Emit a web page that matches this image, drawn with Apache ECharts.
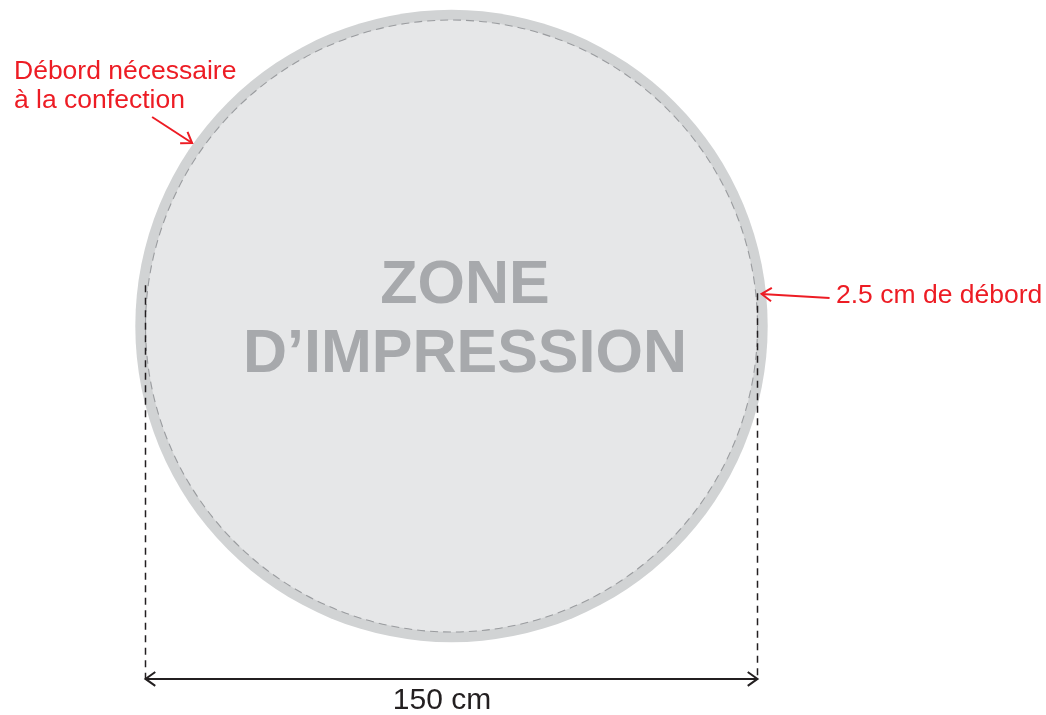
<!DOCTYPE html>
<html>
<head>
<meta charset="utf-8">
<script src="https://cdn.jsdelivr.net/npm/echarts@6/dist/echarts.min.js"></script>
<style>
  html, body { margin: 0; background: #fff; }
  #main { width: 1046px; height: 715px; }
</style>
</head>
<body>
<div id="main"></div>
<script>
// banner sizes, in cm
const diameterCm = 150
const bleedCm = 2.5
const discRadii = [diameterCm / 2 + bleedCm, diameterCm / 2] // bleed ring, print zone
const extensionLines = [[-75, 10, -86.5], [75, 8, -86.5]] // x, y from, y to
const dimensionLines = [[-75, 75, -86.5]] // x from, x to, y
const leaderTargets = [[144.8, 77.8], [5.9, 76.4]] // angle (deg), radius (cm)
const zoneLabels = ['ZONE', 'D’IMPRESSION']
const noteLabels = ['Débord nécessaire', 'à la confection']
const bleedLabel = bleedCm + ' cm de débord'
const dimensionLabel = diameterCm + ' cm'

const W = 1046
const H = 715
const PX_PER_CM = 4.08
const CX = 451.5
const CY = 326
const RED = '#ed1c24'
const DARK = '#231f20'
const FONT = '"Liberation Sans", Arial, sans-serif'

const chart = echarts.init(document.getElementById('main'))

function chevron (tip, from, len, ang) {
  const a = Math.atan2(from[1] - tip[1], from[0] - tip[0])
  return [
    [tip[0] + len * Math.cos(a + ang), tip[1] + len * Math.sin(a + ang)],
    tip,
    [tip[0] + len * Math.cos(a - ang), tip[1] + len * Math.sin(a - ang)]
  ]
}

// tail of each leader, relative to its tip (px)
const leaderTails = [[-40, -26], [68, 4]]

function label (text, x, y, font, fill, align) {
  return {
    type: 'text', x, y, z: 100,
    style: { text, font: font + ' ' + FONT, fill, align, verticalAlign: 'middle' }
  }
}

const option = {
  animation: false,
  grid: { left: 0, top: 0, width: W, height: H },
  xAxis: { type: 'value', min: -CX / PX_PER_CM, max: (W - CX) / PX_PER_CM, show: false },
  yAxis: { type: 'value', min: -(H - CY) / PX_PER_CM, max: CY / PX_PER_CM, show: false },
  series: [
    {
      type: 'custom',
      data: discRadii,
      renderItem: (params, api) => {
        const c = api.coord([0, 0])
        const r = api.size([api.value(0), 0])[0]
        const outer = params.dataIndex === 0
        return {
          type: 'circle',
          shape: { cx: c[0], cy: c[1], r: r },
          style: outer
            ? { fill: '#d1d3d4' }
            : { fill: '#e6e7e8', stroke: '#9a9c9f', lineWidth: 1.1, lineDash: [8, 5] }
        }
      }
    },
    {
      type: 'custom',
      data: extensionLines,
      renderItem: (params, api) => {
        const a = api.coord([api.value(0), api.value(1)])
        const b = api.coord([api.value(0), api.value(2)])
        return {
          type: 'line',
          shape: { x1: a[0], y1: a[1], x2: b[0], y2: b[1] },
          style: { stroke: DARK, lineWidth: 1.5, lineDash: [7, 5.5] }
        }
      }
    },
    {
      type: 'custom',
      data: dimensionLines,
      renderItem: (params, api) => {
        const a = api.coord([api.value(0), api.value(2)])
        const b = api.coord([api.value(1), api.value(2)])
        const style = { stroke: DARK, lineWidth: 2, fill: null }
        return {
          type: 'group',
          children: [
            { type: 'line', shape: { x1: a[0], y1: a[1], x2: b[0], y2: b[1] }, style },
            { type: 'polyline', shape: { points: chevron(a, b, 12, 0.62) }, style },
            { type: 'polyline', shape: { points: chevron(b, a, 12, 0.62) }, style }
          ]
        }
      }
    },
    {
      type: 'custom',
      data: leaderTargets,
      renderItem: (params, api) => {
        const ang = api.value(0) * Math.PI / 180
        const r = api.value(1)
        const tip = api.coord([r * Math.cos(ang), r * Math.sin(ang)])
        const off = leaderTails[params.dataIndex]
        const tail = [tip[0] + off[0], tip[1] + off[1]]
        const style = { stroke: RED, lineWidth: 2, fill: null }
        return {
          type: 'group',
          children: [
            { type: 'line', shape: { x1: tail[0], y1: tail[1], x2: tip[0], y2: tip[1] }, style },
            { type: 'polyline', shape: { points: chevron(tip, tail, 12, 0.6) }, style }
          ]
        }
      }
    }
  ],
  graphic: [
    label(zoneLabels[0], 465, 286, 'bold 61px', '#a7a9ac', 'center'),
    label(zoneLabels[1], 465, 355, 'bold 61px', '#a7a9ac', 'center'),
    label(noteLabels[0], 14, 72, '26.5px', RED, 'left'),
    label(noteLabels[1], 14, 101, '26.5px', RED, 'left'),
    label(bleedLabel, 836, 296, '26.5px', RED, 'left'),
    label(dimensionLabel, 442, 701, '30px', DARK, 'center')
  ]
}

chart.setOption(option)
</script>
</body>
</html>
